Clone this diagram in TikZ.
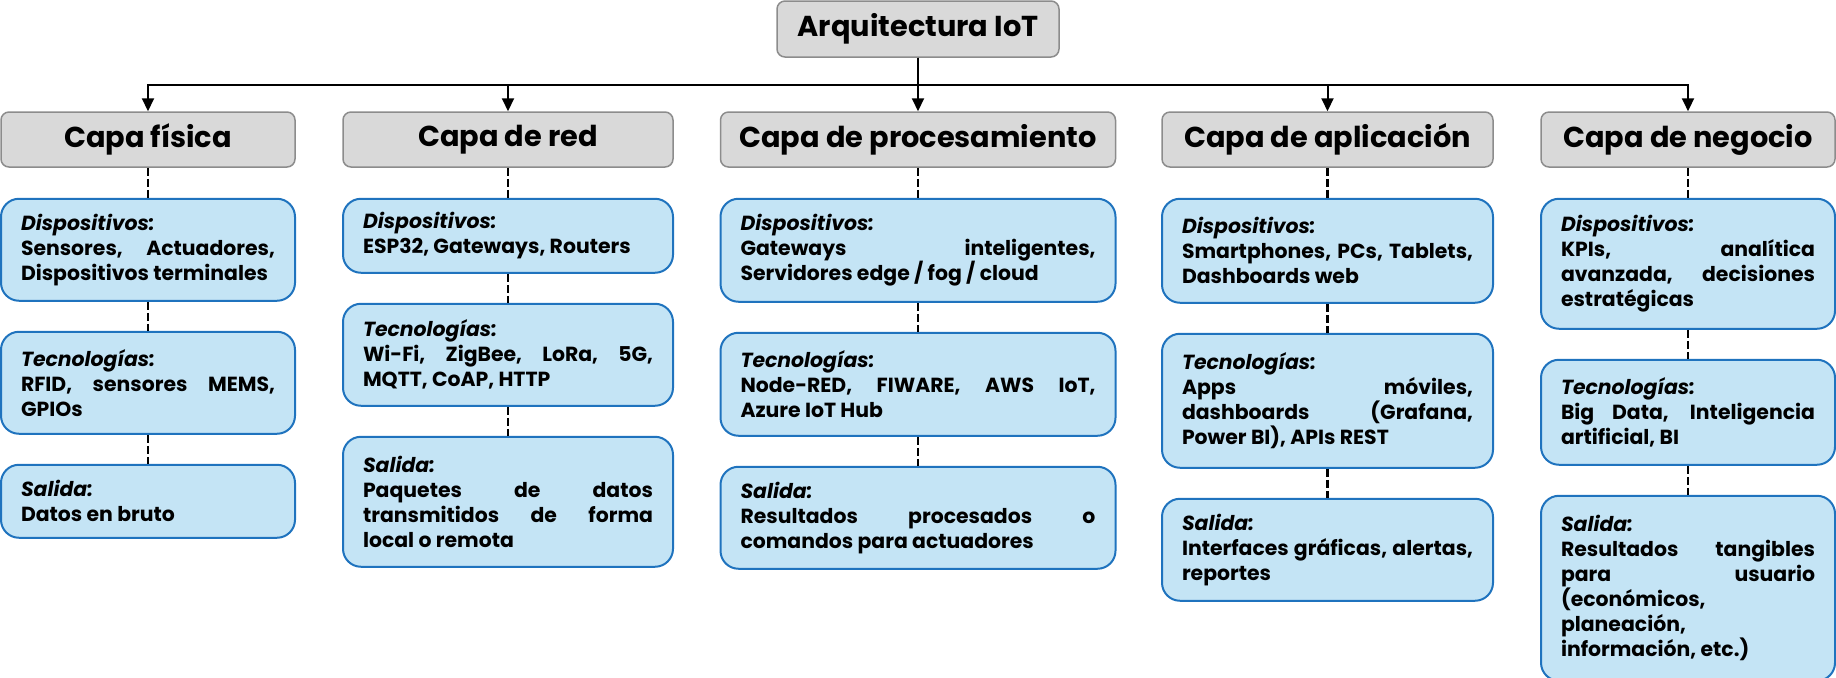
\documentclass[tikz,border=0pt]{standalone}
\usepackage{fontspec}
\setmainfont{Poppins}
\usetikzlibrary{positioning,arrows.meta}

\definecolor{grisfondo}{HTML}{D9D9D9}
\definecolor{grisborde}{HTML}{8C8C8C}
\definecolor{azulfondo}{HTML}{C4E4F5}
\definecolor{azulborde}{HTML}{1F73BE}

\tikzset{
  capa/.style={draw=grisborde, fill=grisfondo, line width=0.75pt, rounded corners=4pt,
    minimum height=27.5pt, inner sep=0pt, font=\bfseries\fontsize{14.4}{16}\selectfont},
  bloque/.style 2 args={draw=azulborde, fill=azulfondo, line width=1pt, rounded corners=9pt,
    text width=#1, minimum height=#2, inner xsep=10pt, inner ysep=0pt, align=justify,
    font=\bfseries\fontsize{10.2}{12.5}\selectfont},
  enlace/.style={line width=1.1pt, dash pattern=on 4pt off 1.5pt},
}

\begin{document}
\begin{tikzpicture}[>={Triangle[length=6.5pt,width=6pt]}]
    \useasboundingbox (0,0) rectangle (918pt,-338.5pt);
    % Define headers
        \node[capa, minimum width=141pt, minimum height=28pt] (titulo) at (459pt,-14.5pt) {Arquitectura IoT};
        \node[capa, minimum width=147pt] (fis-0) at (74pt,-69.75pt) {Capa física};
        \node[capa, minimum width=165pt] (red-0) at (254pt,-69.75pt) {Capa de red};
        \node[capa, minimum width=197.5pt] (pro-0) at (459pt,-69.75pt) {Capa de procesamiento};
        \node[capa, minimum width=165.5pt] (apl-0) at (663.75pt,-69.75pt) {Capa de aplicación};
        \node[capa, minimum width=147pt] (neg-0) at (844pt,-69.75pt) {Capa de negocio};
        % Capa fisica
        \node[bloque={127pt}{51pt}, below=15pt of fis-0] (fis-1)
            {\textit{Dispositivos:}\\ Sensores, Actuadores,\linebreak Dispositivos terminales};
        \node[bloque={127pt}{51pt}, below=14.5pt of fis-1] (fis-2)
            {\textit{Tecnologías:}\\ RFID, sensores MEMS,\linebreak GPIOs};
        \node[bloque={127pt}{36.5pt}, below=14.5pt of fis-2] (fis-3)
            {\textit{Salida:}\\ Datos en bruto};
        % Capa de red
        \node[bloque={145pt}{37pt}, below=15pt of red-0] (red-1)
            {\textit{Dispositivos:}\\ ESP32, Gateways, Routers};
        \node[bloque={145pt}{51pt}, below=14.5pt of red-1] (red-2)
            {\textit{Tecnologías:}\\ Wi-Fi, ZigBee, LoRa, 5G,\linebreak MQTT, CoAP, HTTP};
        \node[bloque={145pt}{65pt}, below=14.5pt of red-2] (red-3)
            {\textit{Salida:}\\ Paquetes de datos\linebreak transmitidos de forma\linebreak local o remota};
        % Capa de procesamiento
        \node[bloque={177.5pt}{51.5pt}, below=15pt of pro-0] (pro-1)
            {\textit{Dispositivos:}\\ Gateways inteligentes,\linebreak Servidores edge / fog / cloud};
        \node[bloque={177.5pt}{51.5pt}, below=14.5pt of pro-1] (pro-2)
            {\textit{Tecnologías:}\\ Node-RED, FIWARE, AWS IoT,\linebreak Azure IoT Hub};
        \node[bloque={177.5pt}{51pt}, below=14.5pt of pro-2] (pro-3)
            {\textit{Salida:}\\ Resultados procesados o\linebreak comandos para actuadores};
        % Capa de aplicacion
        \node[bloque={145.5pt}{52pt}, below=15pt of apl-0] (apl-1)
            {\textit{Dispositivos:}\\ Smartphones, PCs, Tablets,\linebreak Dashboards web};
        \node[bloque={145.5pt}{67pt}, below=14.5pt of apl-1] (apl-2)
            {\textit{Tecnologías:}\\ Apps móviles,\linebreak dashboards (Grafana,\linebreak Power BI), APIs REST};
        \node[bloque={145.5pt}{51pt}, below=14.5pt of apl-2] (apl-3)
            {\textit{Salida:}\\ Interfaces gráficas, alertas,\linebreak reportes};
        % Capa de negocio
        \node[bloque={127pt}{65pt}, below=15pt of neg-0] (neg-1)
            {\textit{Dispositivos:}\\ KPIs, analítica\linebreak avanzada, decisiones\linebreak estratégicas};
        \node[bloque={127pt}{52.5pt}, below=14.5pt of neg-1] (neg-2)
            {\textit{Tecnologías:}\\ Big Data, Inteligencia\linebreak artificial, BI};
        \node[bloque={127pt}{92.5pt}, below=14.5pt of neg-2] (neg-3)
            {\textit{Salida:}\\ Resultados tangibles\linebreak para usuario\linebreak (económicos,\linebreak planeación,\linebreak información, etc.)};
        % Draw arrows
        \draw[->, line width=1pt] (titulo.south) -- (pro-0.north);
        \foreach \c in {fis,red,apl,neg}
            \draw[->, line width=1pt] (titulo.south) -- ++(0,-13.5pt) -| (\c-0.north);
        \foreach \c in {fis,red,pro,apl,neg} {
            \draw[enlace] (\c-0.south) -- (\c-1.north);
            \draw[enlace] (\c-1.south) -- (\c-2.north);
            \draw[enlace] (\c-2.south) -- (\c-3.north);
        }
    \end{tikzpicture}
\end{document}
